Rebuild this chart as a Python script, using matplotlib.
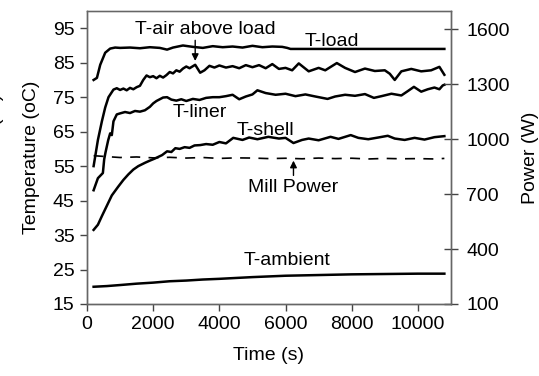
import matplotlib
matplotlib.use("Agg")
import matplotlib.pyplot as plt

plt.rcParams['font.family'] = ['Liberation Sans', 'DejaVu Sans']
plt.rcParams['font.size'] = 14

# temperatures (oC) against time (s)
t_load = [200, 300, 400, 550, 700, 850, 1000, 1300, 1600, 1900, 2200, 2420, 2600,
          2900, 3200, 3500, 3800, 4100, 4400, 4700, 5000, 5300, 5600, 5900, 6050,
          6150, 10800]
load = [80.0, 80.6, 84.4, 87.9, 89.1, 89.4, 89.3, 89.4, 89.2, 89.5, 89.3, 88.8, 89.4,
        90.0, 89.6, 89.3, 89.8, 89.5, 89.7, 89.4, 89.9, 89.5, 89.7, 89.6, 89.3,
        89.0, 89.0]

t_air = [200, 330, 450, 550, 650, 800, 900, 1000, 1100, 1200, 1300, 1400, 1500,
         1600, 1700, 1800, 1900, 2000, 2100, 2200, 2300, 2400, 2500, 2600, 2700,
         2800, 2900, 3000, 3100, 3270, 3420, 3550, 3700, 3850, 4000, 4200, 4400,
         4600, 4800, 5000, 5200, 5400, 5600, 5800, 6000, 6200, 6400, 6700, 7000,
         7200, 7550, 7800, 8100, 8400, 8700, 9000, 9150, 9300, 9500, 9800, 10100,
         10400, 10650, 10800]
air = [55.0, 62.6, 68.0, 72.0, 75.0, 77.2, 77.6, 77.1, 77.5, 77.0, 77.7, 77.3, 77.9,
       78.3, 80.0, 81.3, 80.8, 81.1, 80.5, 81.2, 80.7, 81.4, 82.3, 81.9, 82.8,
       82.4, 83.3, 83.9, 83.4, 84.4, 82.1, 82.8, 84.1, 83.6, 84.2, 83.6, 84.0,
       83.4, 84.3, 83.7, 84.3, 83.4, 84.6, 83.2, 83.5, 82.8, 84.8, 82.5, 83.5,
       82.8, 84.9, 83.5, 82.3, 83.3, 82.6, 82.8, 81.8, 80.0, 82.5, 83.2, 82.5,
       82.8, 83.8, 81.5]

t_liner = [200, 330, 480, 520, 560, 640, 700, 750, 800, 900, 1000, 1150, 1300,
           1450, 1600, 1750, 1900, 2000, 2100, 2200, 2300, 2420, 2550, 2700, 2850,
           3000, 3200, 3400, 3600, 3800, 4000, 4200, 4400, 4600, 4800, 5000, 5150,
           5400, 5700, 6000, 6300, 6600, 6900, 7270, 7500, 7800, 8100, 8400, 8670,
           8900, 9200, 9500, 9700, 9880, 10100, 10300, 10500, 10650, 10750, 10800]
liner = [48.0, 51.5, 53.0, 57.0, 59.0, 62.5, 64.5, 64.0, 68.0, 70.0, 70.3, 70.7,
         70.4, 71.0, 70.8, 71.2, 72.2, 73.2, 73.9, 74.4, 74.9, 75.0, 74.3, 74.0,
         74.4, 73.9, 74.5, 74.2, 74.8, 75.0, 75.0, 75.3, 75.7, 74.4, 75.2, 75.8,
         77.0, 76.2, 75.7, 76.0, 75.3, 75.8, 75.2, 74.5, 75.2, 75.7, 75.4, 75.9,
         74.8, 75.3, 76.0, 75.5, 76.8, 78.0, 76.6, 77.3, 77.8, 77.3, 78.4, 78.6]

t_shell = [200, 330, 450, 600, 750, 940, 1100, 1250, 1400, 1550, 1760,
           1900, 2050, 2270, 2420, 2550, 2670, 2800, 2950, 3100, 3250, 3420, 3600,
           3800, 4000, 4200, 4420, 4700, 4900, 5150, 5480, 5800, 6000, 6240, 6500,
           6700, 7000, 7360, 7600, 7970, 8200, 8500, 8800, 9090, 9300, 9600, 9900,
           10200, 10500, 10800]
shell = [36.5, 38.0, 40.5, 43.5, 46.5, 49.0, 51.0, 52.6, 54.0, 55.0,
         56.0, 56.6, 57.2, 58.2, 59.3, 59.1, 60.2, 60.0, 60.5, 60.3, 61.0, 61.1,
         61.4, 61.2, 62.0, 61.6, 63.2, 62.6, 63.3, 62.8, 63.5, 63.0, 63.2, 61.7,
         62.6, 63.0, 62.5, 63.5, 62.9, 64.0, 63.2, 62.8, 63.3, 63.8, 63.0, 62.6,
         63.2, 62.7, 63.4, 63.7]

t_amb = [200, 600, 1000, 1500, 2000, 2500, 3000, 3500, 4000, 5000, 6000, 7000,
         8000, 9000, 10000, 10800]
ambient = [20.0, 20.2, 20.5, 20.9, 21.2, 21.6, 21.8, 22.1, 22.3, 22.8, 23.2, 23.4,
           23.6, 23.7, 23.8, 23.8]

# mill power (W) on the right-hand axis
t_power = [200, 500, 1000, 1500, 2000, 2500, 3000, 3500, 4000, 4500, 5000, 5500,
           6000, 6500, 7000, 7500, 8000, 8500, 9000, 9500, 10000, 10500, 10800]
power = [910, 906, 900, 903, 898, 901, 897, 900, 895, 898, 897, 894, 896, 893, 897,
         894, 896, 892, 895, 893, 894, 892, 895]

fig = plt.figure(figsize=(5.39, 3.76), dpi=100)
ax = fig.add_axes([0.1614, 0.1915, 0.6753, 0.7792])
ax2 = ax.twinx()

lw = 1.8
ax.plot(t_load, load, color='black', lw=lw)
ax.plot(t_air, air, color='black', lw=lw)
ax.plot(t_liner, liner, color='black', lw=lw)
ax.plot(t_shell, shell, color='black', lw=lw)
ax.plot(t_amb, ambient, color='black', lw=lw)
ax2.plot(t_power, power, color='black', lw=1.2, dashes=(6, 5))

ax.set_xlim(0, 11000)
ax.set_ylim(15, 100)
ax2.set_ylim(100, 1700)
ax.set_xticks([0, 2000, 4000, 6000, 8000, 10000])
ax.set_yticks(range(15, 100, 10))
ax2.set_yticks([100, 400, 700, 1000, 1300, 1600])

ax.set_xlabel('Time (s)', labelpad=10)
ax.set_ylabel('Temperature (oC)', labelpad=9)
ax2.set_ylabel('Power (W)', labelpad=9)

for a in (ax, ax2):
    for s in a.spines.values():
        s.set_color('#666666')
        s.set_linewidth(1.0)
ax.spines['top'].set_color('#999999')
ax.tick_params(axis='both', direction='out', length=5, width=1, color='#444444', pad=4)
ax2.tick_params(axis='y', direction='inout', length=10, width=1, color='#444444', pad=6)

# curve labels and pointers
ax.text(3580, 94.5, 'T-air above load', ha='center', va='center')
ax.annotate('', xy=(3270, 84.7), xytext=(3270, 92.3),
            arrowprops=dict(arrowstyle='-|>', color='black', lw=1, mutation_scale=10))
ax.text(7400, 91.3, 'T-load', ha='center', va='center')
ax.text(3400, 70.5, 'T-liner', ha='center', va='center')
ax.text(5400, 65.3, 'T-shell', ha='center', va='center')
ax.text(6220, 48.8, 'Mill Power', ha='center', va='center')
ax.annotate('', xy=(6240, 57.4), xytext=(6240, 51.5),
            arrowprops=dict(arrowstyle='-|>', color='black', lw=1, mutation_scale=10))
ax.text(6060, 27.7, 'T-ambient', ha='center', va='center')

fig.text(-0.0075, 0.628, 'Power (W)', rotation=90, ha='center', va='center')

fig.savefig('out.png', dpi=100)
